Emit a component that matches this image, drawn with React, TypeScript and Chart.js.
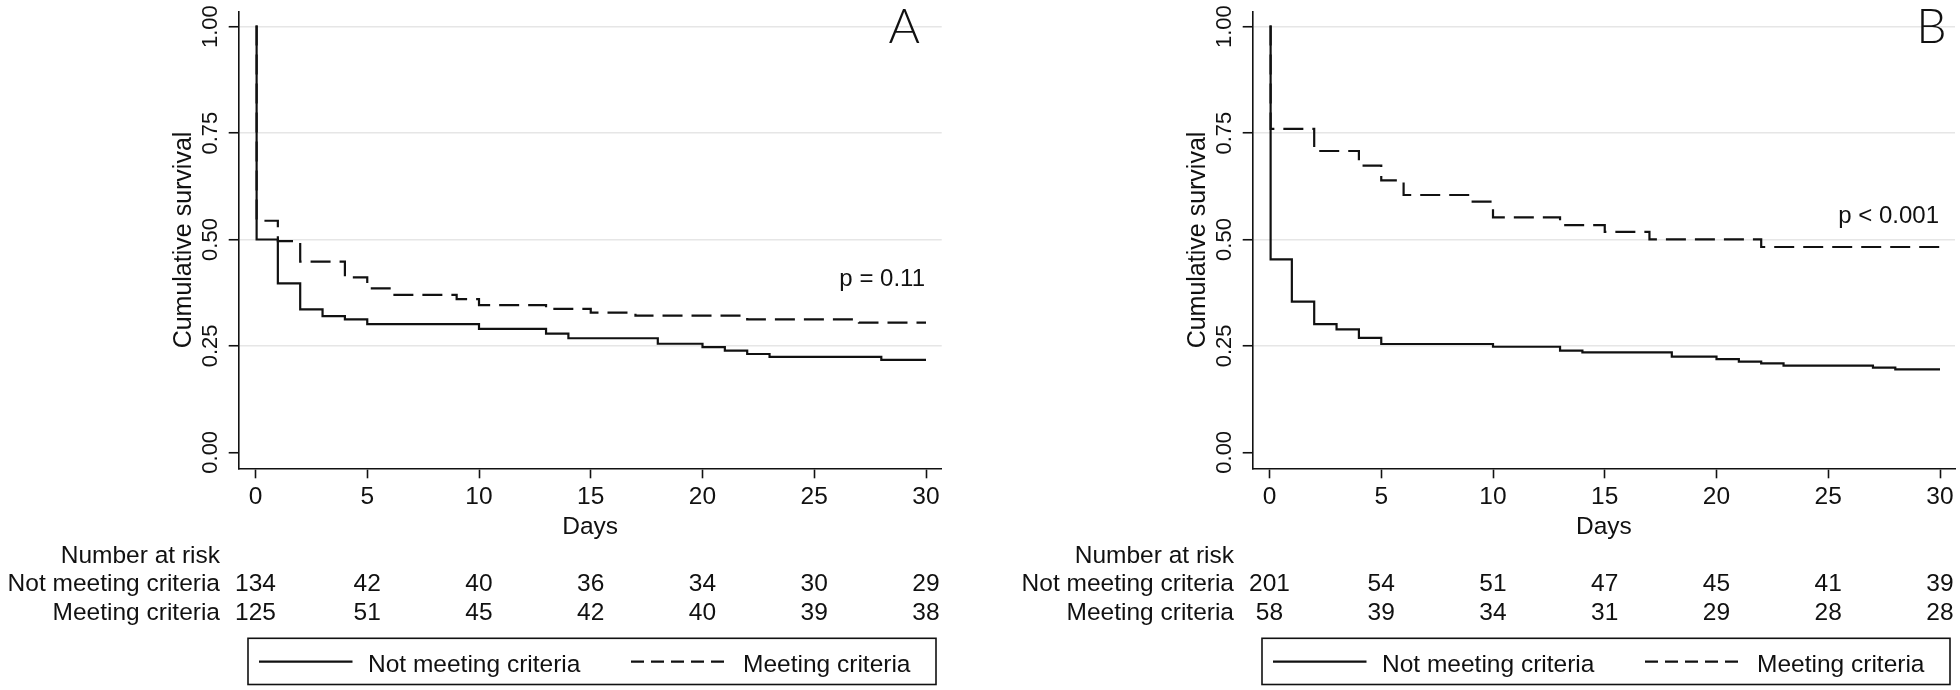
import React, { useEffect, useRef } from 'react';
import { Chart, registerables } from 'chart.js';

Chart.register(...registerables);

// ---------- data ----------
const dayTicks = [0, 5, 10, 15, 20, 25, 30];
const survivalTicks = [0, 0.25, 0.5, 0.75, 1];
const seriesNames = ['Not meeting criteria', 'Meeting criteria'];

// Panel A
const aNotTimes = [0, 0.05, 1, 2, 3, 4, 5, 10, 13, 14, 18, 20, 21, 22, 23, 28, 30];
const aNotSurv = [1, 0.5, 0.397, 0.336, 0.32, 0.3125, 0.301, 0.29, 0.279, 0.268, 0.255, 0.247, 0.239, 0.231, 0.224, 0.217, 0.217];
const aMetTimes = [0, 0.05, 1, 2, 4, 5, 6, 9, 10, 13, 15, 17, 22, 27, 30];
const aMetSurv = [1, 0.544, 0.496, 0.448, 0.411, 0.385, 0.37, 0.36, 0.346, 0.337, 0.328, 0.321, 0.3125, 0.3045, 0.3045];
const aRiskNot = [134, 42, 40, 36, 34, 30, 29];
const aRiskMet = [125, 51, 45, 42, 40, 39, 38];

// Panel B
const bNotTimes = [0, 0.05, 1, 2, 3, 4, 5, 10, 13, 14, 18, 20, 21, 22, 23, 27, 28, 30];
const bNotSurv = [1, 0.4535, 0.354, 0.301, 0.289, 0.269, 0.2545, 0.248, 0.239, 0.235, 0.225, 0.219, 0.213, 0.209, 0.2036, 0.199, 0.195, 0.195];
const bMetTimes = [0, 0.05, 2, 4, 5, 6, 9, 10, 13, 15, 17, 22, 30];
const bMetSurv = [1, 0.76, 0.708, 0.6735, 0.639, 0.6046, 0.589, 0.552, 0.534, 0.518, 0.5005, 0.4824, 0.4824];
const bRiskNot = [201, 54, 51, 47, 45, 41, 39];
const bRiskMet = [58, 39, 34, 31, 29, 28, 28];

// ---------- layout ----------
const W = 980;
const H = 690;
const AREA_TOP = 11.7;
const AREA_BOTTOM = 468.3;
const PX_PER_DAY = 22.35;
const PX_PER_UNIT = 425.6;
const FONT = '"Liberation Sans", Arial, Helvetica, sans-serif';

const panels = [
  {
    letter: 'A', pText: 'p = 0.11', pValue: 0.391,
    notT: aNotTimes, notS: aNotSurv, metT: aMetTimes, metS: aMetSurv,
    riskNot: aRiskNot, riskMet: aRiskMet,
    axisLeft: 238.7, axisRight: 941.7, letterX: 904.2,
  },
  {
    letter: 'B', pText: 'p < 0.001', pValue: 0.5395,
    notT: bNotTimes, notS: bNotSurv, metT: bMetTimes, metS: bMetSurv,
    riskNot: bRiskNot, riskMet: bRiskMet,
    axisLeft: 272.7, axisRight: 975, letterX: 951.5,
  },
];

type PanelCfg = typeof panels[number];

function Panel({ cfg }: { cfg: PanelCfg }) {
  const ref = useRef<HTMLCanvasElement | null>(null);
  useEffect(() => {
    const canvas = ref.current;
    if (!canvas) return;
    const xMin = -16.8 / PX_PER_DAY;
    const xMax = xMin + (cfg.axisRight - cfg.axisLeft) / PX_PER_DAY;
    const yMax = 1 + (26.7 - AREA_TOP) / PX_PER_UNIT;
    const yMin = yMax - (AREA_BOTTOM - AREA_TOP) / PX_PER_UNIT;

    const overlay = {
      id: 'overlay',
      beforeDraw(chart: any) {
        const c = chart.ctx;
        c.save();
        c.fillStyle = '#fff';
        c.fillRect(0, 0, chart.width, chart.height);
        c.restore();
      },
      afterDraw(chart: any) {
        const c: CanvasRenderingContext2D = chart.ctx;
        const xs = chart.scales.x;
        const ys = chart.scales.y;
        const x0 = xs.getPixelForValue(0);
        const x30 = xs.getPixelForValue(30);
        const left = chart.chartArea.left;
        const cx = (chart.chartArea.left + chart.chartArea.right) / 2;
        const cy = (chart.chartArea.top + chart.chartArea.bottom) / 2;
        c.save();
        c.fillStyle = '#111';
        c.textBaseline = 'alphabetic';

        // y tick labels (rotated)
        c.font = `22px ${FONT}`;
        c.textAlign = 'center';
        survivalTicks.forEach((v) => {
          const py = ys.getPixelForValue(v);
          c.save();
          c.translate(left - 30 + 0.358 * 22, py);
          c.rotate(-Math.PI / 2);
          c.fillText(v.toFixed(2), 0, 0);
          c.restore();
        });
        // y title
        c.font = `25px ${FONT}`;
        c.save();
        c.translate(left - 57 + 9, cy);
        c.rotate(-Math.PI / 2);
        c.fillText('Cumulative survival', 0, 0);
        c.restore();

        // x tick labels
        c.font = `24.5px ${FONT}`;
        c.textAlign = 'center';
        dayTicks.forEach((d) => {
          c.fillText(String(d), xs.getPixelForValue(d), 503.5);
        });
        c.fillText('Days', cx, 534);

        // risk table
        const labelRight = x0 - 35.5;
        c.textAlign = 'right';
        c.fillText('Number at risk', labelRight, 562.7);
        c.fillText(seriesNames[0], labelRight, 590.7);
        c.fillText(seriesNames[1], labelRight, 619.5);
        c.textAlign = 'center';
        dayTicks.forEach((d, i) => {
          const px = xs.getPixelForValue(d);
          c.fillText(String(cfg.riskNot[i]), px, 590.7);
          c.fillText(String(cfg.riskMet[i]), px, 619.5);
        });

        // legend box
        c.strokeStyle = '#111';
        c.lineWidth = 1.6;
        c.strokeRect(x0 - 7.5, 638.3, x30 + 10 - (x0 - 7.5), 46.2);
        c.lineWidth = 2.2;
        c.beginPath();
        c.moveTo(x0 + 3.5, 661.7);
        c.lineTo(x0 + 97, 661.7);
        c.stroke();
        c.setLineDash([13, 7]);
        c.beginPath();
        c.moveTo(x0 + 375.5, 661.7);
        c.lineTo(x0 + 470.5, 661.7);
        c.stroke();
        c.setLineDash([]);
        c.textAlign = 'left';
        c.fillText(seriesNames[0], x0 + 112.5, 671.7);
        c.fillText(seriesNames[1], x0 + 487.5, 671.7);

        // p-value
        c.textAlign = 'right';
        c.font = `24px ${FONT}`;
        c.fillText(cfg.pText, x30 - 1, ys.getPixelForValue(cfg.pValue));

        // panel letter
        c.textAlign = 'center';
        c.font = `300 48px Lato, ${FONT}`;
        c.fillText(cfg.letter, cfg.letterX, 42.7);
        c.restore();
      },
    };

    const chart = new Chart(canvas, {
      type: 'line',
      data: {
        datasets: [
          {
            label: seriesNames[0],
            data: cfg.notT.map((t, i) => ({ x: t, y: cfg.notS[i] })),
            borderColor: '#111',
            borderWidth: 2.2,
            stepped: true,
            pointRadius: 0,
            fill: false,
          },
          {
            label: seriesNames[1],
            data: cfg.metT.map((t, i) => ({ x: t, y: cfg.metS[i] })),
            borderColor: '#111',
            borderWidth: 2.2,
            borderDash: [20, 9],
            stepped: true,
            pointRadius: 0,
            fill: false,
          },
        ],
      },
      options: {
        responsive: false,
        animation: false,
        devicePixelRatio: 1,
        layout: { padding: { left: 0, right: W - cfg.axisRight, top: AREA_TOP, bottom: 0 } },
        plugins: { legend: { display: false }, tooltip: { enabled: false } },
        scales: {
          x: {
            type: 'linear',
            min: xMin,
            max: xMax,
            afterFit: (s: any) => { s.height = H - AREA_BOTTOM; },
            afterBuildTicks: (s: any) => { s.ticks = dayTicks.map((v) => ({ value: v })); },
            ticks: { display: false },
            grid: { drawOnChartArea: false, drawTicks: true, tickLength: 10, tickColor: '#111', tickWidth: 1.6 },
            border: { display: true, color: '#111', width: 1.6 },
          },
          y: {
            type: 'linear',
            min: yMin,
            max: yMax,
            afterFit: (s: any) => { s.width = cfg.axisLeft; },
            afterBuildTicks: (s: any) => { s.ticks = survivalTicks.map((v) => ({ value: v })); },
            ticks: { display: false },
            grid: {
              color: (ctx: any) => (ctx.tick && ctx.tick.value === 0 ? 'rgba(0,0,0,0)' : '#e6e6e6'),
              lineWidth: 1.5,
              drawTicks: true,
              tickLength: 10,
              tickColor: '#111',
              tickWidth: 1.6,
            },
            border: { display: true, color: '#111', width: 1.6 },
          },
        },
      } as any,
      plugins: [overlay],
    });
    return () => chart.destroy();
  }, [cfg]);
  return (
    <canvas
      ref={ref}
      width={W}
      height={H}
      style={{ display: 'block', width: W, height: H }}
    />
  );
}

export default function App() {
  useEffect(() => {
    document.body.style.margin = '0';
    document.body.style.background = '#fff';
  }, []);
  return (
    <div style={{ display: 'flex', width: 2 * W, height: H, background: '#fff' }}>
      {panels.map((p) => (
        <Panel key={p.letter} cfg={p} />
      ))}
    </div>
  );
}
